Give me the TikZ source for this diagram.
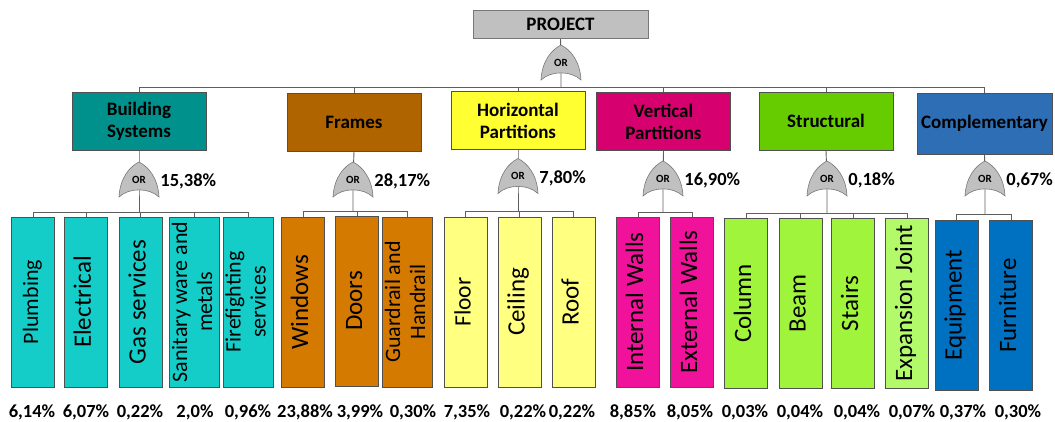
\documentclass[tikz,border=0pt]{standalone}
\usepackage{fontspec}
\setmainfont{Carlito}
\usepackage{graphicx}
\usetikzlibrary{backgrounds}
\definecolor{linegray}{RGB}{95,95,95}
\definecolor{boxgray}{RGB}{80,80,80}
\definecolor{gatefill}{RGB}{192,192,192}
\definecolor{gatedraw}{RGB}{120,120,120}
\definecolor{projC}{RGB}{192,192,192}
\definecolor{bsysC}{RGB}{0,145,140}
\definecolor{frmC}{RGB}{176,100,0}
\definecolor{hpartC}{RGB}{255,255,50}
\definecolor{vpartC}{RGB}{214,0,110}
\definecolor{strucC}{RGB}{102,204,0}
\definecolor{complC}{RGB}{46,110,180}
\definecolor{bsysL}{RGB}{20,205,200}
\definecolor{frmL}{RGB}{213,122,0}
\definecolor{hpartL}{RGB}{255,255,128}
\definecolor{vpartL}{RGB}{240,18,155}
\definecolor{strucL}{RGB}{160,245,60}
\definecolor{expjL}{RGB}{178,250,105}
\definecolor{complL}{RGB}{0,112,192}
\newcommand{\vtext}[1]{\rotatebox{90}{\begin{tabular}{@{}c@{}}#1\end{tabular}}}
\newcommand{\orgate}[3]{%
  \draw[gatebody] (#2-20,#3+17.5) .. controls (#2-19,#3-2) and (#2-9,#3-13) .. (#2,#3-17.5)
    .. controls (#2+9,#3-13) and (#2+19,#3-2) .. (#2+20,#3+17.5)
    .. controls (#2+10,#3+8) and (#2-10,#3+8) .. cycle;
  \node[gatetext] (#1) at (#2,#3) {OR};}
\begin{document}
\begin{tikzpicture}[x=1pt,y=-1pt,
  line/.style={draw=linegray,line width=0.9pt},
  catbox/.style={draw=boxgray,line width=0.8pt,minimum width=134,minimum height=58,inner sep=0,align=center,
    font=\fontsize{19}{22}\selectfont\bfseries},
  leaf/.style={draw=boxgray,line width=0.8pt,minimum width=43,minimum height=170,inner sep=0},
  gatebody/.style={fill=gatefill,draw=gatedraw,line width=0.6pt},
  gatetext/.style={minimum width=40,minimum height=35,inner sep=0,font=\fontsize{11}{11}\selectfont\bfseries},
  pct/.style={font=\fontsize{18.5}{18.5}\selectfont\bfseries,inner sep=1pt}]
\useasboundingbox (0,0) rectangle (1055,422);
\node[catbox,fill=projC,draw=gatedraw,minimum width=175,minimum height=28] (proj) at (560.5,24) {PROJECT};
\orgate{gp}{561}{62.5}
\coordinate (bus) at (561,87);
\node[catbox,fill=bsysC] (bsys) at (139,121) {Building\\Systems};
\node[catbox,fill=frmC] (frm) at (354,122) {Frames};
\node[catbox,fill=hpartC] (hpart) at (518,120.5) {Horizontal\\Partitions};
\node[catbox,fill=vpartC] (vpart) at (663.5,121.5) {Vertical\\Partitions};
\node[catbox,fill=strucC] (struc) at (826,121) {Structural};
\node[catbox,fill=complC,minimum width=135,minimum height=61] (compl) at (984.5,123.5) {Complementary};
\foreach \c/\x/\y/\sy/\p in {bsys/139/179.5/212/{15,38\%},frm/353/179.5/211/{28,17\%},hpart/518/176/211/{7,80\%},
    vpart/663/178.5/212/{16,90\%},struc/827/178.5/213/{0,18\%},compl/985/178.5/214/{0,67\%}}{
  \orgate{g\c}{\x}{\y}
  \node[pct,anchor=west] (p\c) at ([yshift=-2pt]g\c.east) {\p};
  \coordinate (s\c) at (\x,\sy);
}
\foreach \nm/\x/\y/\f/\s/\txt/\px/\p in {
    plumb/33/302/bsysL/22/Plumbing/32/{6,14\%},
    elec/86/302/bsysL/25/Electrical/86/{6,07\%},
    gas/140.5/302/bsysL/25/Gas services/140/{0,22\%},
    sanit/194.5/302/bsysL/22/{Sanitary ware and\\metals}/195/{2,0\%},
    fire/248/302/bsysL/22/{Firefighting\\services}/248/{0,96\%},
    wind/303/302/frmL/25/Windows/305/{23,88\%},
    door/357/301/frmL/25/Doors/360/{3,99\%},
    guard/407.5/302/frmL/22/{Guardrail and\\Handrail}/413/{0,30\%},
    floor/465.5/302/hpartL/23.5/Floor/467/{7,35\%},
    ceil/519.5/302/hpartL/25/Ceiling/523/{0,22\%},
    roof/573.5/302/hpartL/25/Roof/572/{0,22\%},
    intw/638/302/vpartL/25/Internal Walls/633/{8,85\%},
    extw/692/302/vpartL/25/External Walls/690/{8,05\%},
    col/746/303.5/strucL/25/Column/745/{0,03\%},
    beam/800.5/303.5/strucL/25/Beam/800/{0,04\%},
    stair/853/303.5/strucL/25/Stairs/857/{0,04\%},
    expj/907/303.5/expjL/25/Expansion Joint/912/{0,07\%},
    equip/956.5/305.5/complL/25/Equipment/963/{0,37\%},
    furn/1011/305.5/complL/25/Furniture/1018/{0,30\%}}{
  \node[leaf,fill=\f,font=\fontsize{\s}{25}\selectfont] (\nm) at (\x,\y) {\vtext{\txt}};
  \node[pct] (p\nm) at (\px,412) {\p};
}
\begin{scope}[on background layer]
\draw[line] (proj.south) -- (gp.center) -- (bus);
\foreach \c in {bsys,frm,hpart,vpart,struc,compl}{
  \draw[line] (bus) -| (\c.north);
  \draw[line] (\c.south) -- (g\c.center) -- (s\c);
}
\foreach \nm/\c in {plumb/bsys,elec/bsys,gas/bsys,sanit/bsys,fire/bsys,wind/frm,door/frm,guard/frm,
    floor/hpart,ceil/hpart,roof/hpart,intw/vpart,extw/vpart,col/struc,beam/struc,stair/struc,expj/struc,
    equip/compl,furn/compl}
  \draw[line] (s\c) -| (\nm.north);
\end{scope}
\end{tikzpicture}
\end{document}
